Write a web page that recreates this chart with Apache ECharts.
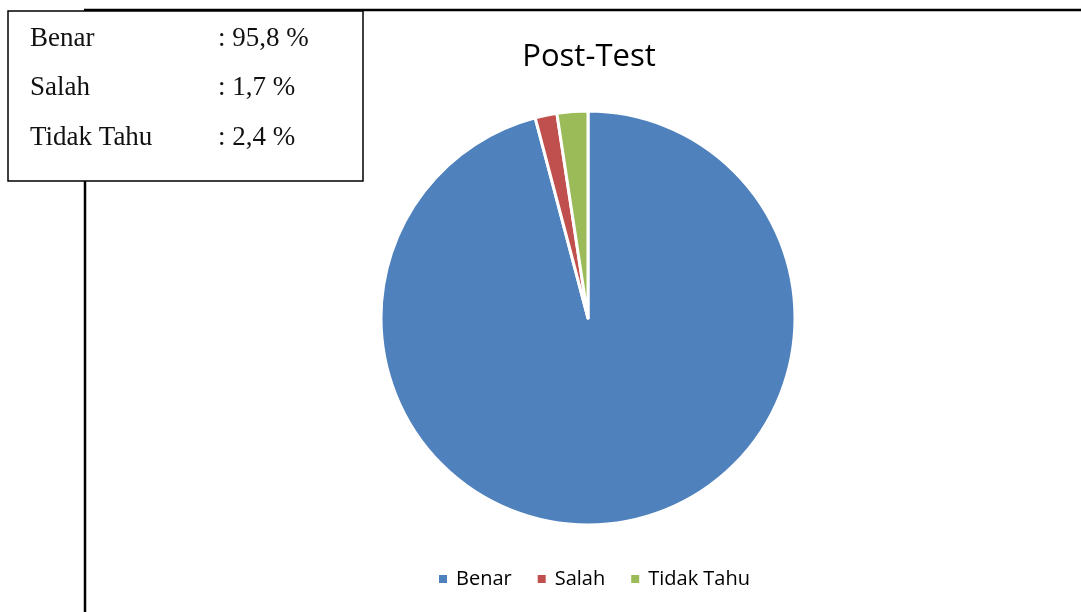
<!DOCTYPE html>
<html>
<head>
<meta charset="utf-8">
<script src="https://cdn.jsdelivr.net/npm/echarts@6/dist/echarts.min.js"></script>
<style>
  html, body { margin: 0; padding: 0; background: #fff; }
  #main { width: 1081px; height: 612px; }
</style>
</head>
<body>
<div id="main"></div>
<script>
var categories = ['Benar', 'Salah', 'Tidak Tahu'];
var values = [95.8, 1.7, 2.4];
var colors = ['#4F81BD', '#C0504D', '#9BBB59'];

var chart = echarts.init(document.getElementById('main'));

// keterangan di kotak kiri atas
var boxText = [];
categories.forEach(function (name, i) {
    var y = 25 + i * 49.5;
    boxText.push({
        type: 'text', left: 30, top: y, z: 20,
        style: { text: name, font: '27px "Liberation Serif", serif', fill: '#111' }
    });
    boxText.push({
        type: 'text', left: 218, top: y, z: 20,
        style: { text: ': ' + String(values[i]).replace('.', ',') + ' %', font: '27px "Liberation Serif", serif', fill: '#111' }
    });
});

var option = {
    animation: false,
    backgroundColor: '#fff',
    title: {
        text: 'Post-Test',
        left: 584, top: 37, textAlign: 'center',
        textStyle: { fontFamily: 'Open Sans', fontSize: 31, fontWeight: 'normal', color: '#000' }
    },
    legend: {
        top: 564, left: 432,
        itemWidth: 10, itemHeight: 10, itemGap: 24,
        icon: 'rect',
        textStyle: { fontFamily: 'Open Sans', fontSize: 20, color: '#000', padding: [0, 0, 0, 3] },
        data: categories
    },
    color: colors,
    series: [{
        type: 'pie',
        center: [588, 318],
        radius: [0, 207],
        startAngle: 90,
        clockwise: true,
        label: { show: false },
        labelLine: { show: false },
        itemStyle: { borderColor: '#fff', borderWidth: 3 },
        emphasis: { disabled: true },
        data: categories.map(function (c, i) { return { name: c, value: values[i] }; })
    }],
    graphic: [
        // garis bingkai luar
        { type: 'line', z: 1, shape: { x1: 84, y1: 10, x2: 1081, y2: 10 }, style: { stroke: '#000', lineWidth: 2.5 } },
        { type: 'line', z: 1, shape: { x1: 85, y1: 10, x2: 85, y2: 612 }, style: { stroke: '#000', lineWidth: 2.5 } },
        // kotak keterangan
        { type: 'rect', z: 10, shape: { x: 8, y: 11, width: 355, height: 170 }, style: { fill: '#fff', stroke: '#000', lineWidth: 1.5 } }
    ].concat(boxText)
};

chart.setOption(option);
</script>
</body>
</html>
